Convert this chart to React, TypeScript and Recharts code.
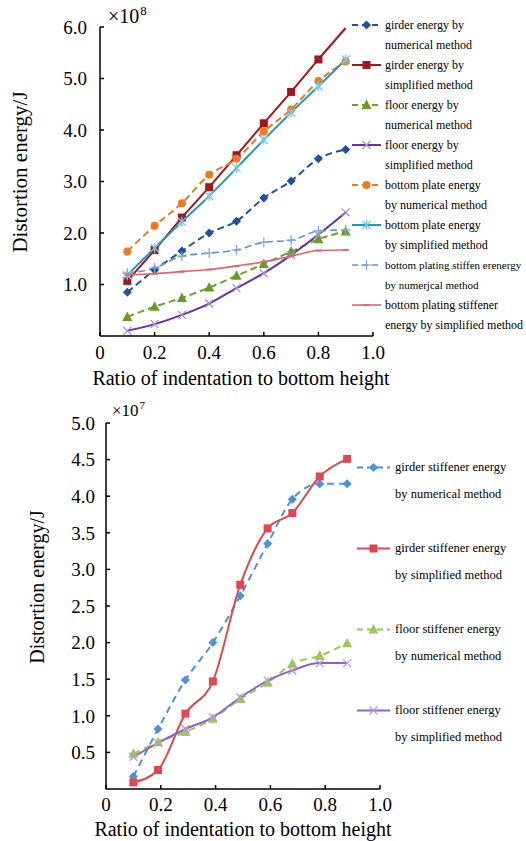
import React from 'react';
import { LineChart, Line, XAxis, YAxis, Legend, Label } from 'recharts';

const FONT = '"Liberation Serif", "Times New Roman", serif';

// upper chart (x10^8 J)
const ratioTop = [0.1, 0.2, 0.3, 0.4, 0.5, 0.6, 0.7, 0.8, 0.9];
const girderNum = [0.85, 1.28, 1.65, 2.0, 2.23, 2.68, 3.01, 3.44, 3.62];
const girderSim = [1.07, 1.67, 2.3, 2.89, 3.51, 4.13, 4.74, 5.37, 5.98];
const floorNum = [0.37, 0.57, 0.74, 0.94, 1.17, 1.4, 1.64, 1.88, 2.03];
const floorSim = [0.1, 0.23, 0.41, 0.63, 0.93, 1.22, 1.57, 1.97, 2.4];
const plateNum = [1.64, 2.14, 2.58, 3.13, 3.44, 3.97, 4.4, 4.95, 5.33];
const plateSim = [1.18, 1.71, 2.22, 2.72, 3.26, 3.81, 4.34, 4.85, 5.37];
const platingStiffNum = [1.22, 1.32, 1.55, 1.61, 1.67, 1.82, 1.86, 2.04, 2.06];
const platingStiffSim = [1.19, 1.21, 1.25, 1.29, 1.36, 1.44, 1.55, 1.66, 1.67];

// lower chart (x10^7 J)
const ratioBottom = [0.1, 0.19, 0.29, 0.39, 0.49, 0.59, 0.68, 0.78, 0.88];
const girderStiffNum = [0.17, 0.82, 1.49, 2.0, 2.64, 3.35, 3.96, 4.17, 4.17];
const girderStiffSim = [0.09, 0.26, 1.03, 1.47, 2.79, 3.56, 3.77, 4.27, 4.51];
const floorStiffNum = [0.48, 0.64, 0.78, 0.96, 1.23, 1.45, 1.71, 1.82, 1.99];
const floorStiffSim = [0.44, 0.63, 0.82, 0.98, 1.25, 1.48, 1.62, 1.72, 1.72];

const xTicks = [0, 0.2, 0.4, 0.6, 0.8, 1.0];
const topYTicks = [1, 2, 3, 4, 5, 6];
const bottomYTicks = [0.5, 1, 1.5, 2, 2.5, 3, 3.5, 4, 4.5, 5];

type Shape = 'diamond' | 'square' | 'triangle' | 'cross' | 'circle' | 'star' | 'plus' | 'dash';

interface Series {
  key: string;
  values: number[];
  color: string;
  markColor: string;
  shape: Shape;
  dash?: string;
  width: number;
  text: [string, string];
  hideLast?: boolean;
  textSize?: number;
}

const topSeries: Series[] = [
  { key: 'girderNum', values: girderNum, color: '#2152a3', markColor: '#1f4fa2', shape: 'diamond', dash: '7 4', width: 2, text: ['girder energy by', 'numerical method'] },
  { key: 'girderSim', values: girderSim, color: '#a3161c', markColor: '#a3161c', shape: 'square', width: 2, text: ['girder energy by', 'simplified method'], hideLast: true },
  { key: 'floorNum', values: floorNum, color: '#6ea12a', markColor: '#679c22', shape: 'triangle', dash: '7 4', width: 2, text: ['floor energy by', 'numerical method'] },
  { key: 'floorSim', values: floorSim, color: '#6b2fa0', markColor: '#a78cd8', shape: 'cross', width: 2, text: ['floor energy by', 'simplified method'] },
  { key: 'plateNum', values: plateNum, color: '#ef7a1d', markColor: '#ef7a1d', shape: 'circle', dash: '7 4', width: 2, text: ['bottom plate energy', 'by numerical method'] },
  { key: 'plateSim', values: plateSim, color: '#1c9bc1', markColor: '#6ccdeb', shape: 'star', width: 2, text: ['bottom plate energy', 'by simplified method'] },
  { key: 'platingStiffNum', values: platingStiffNum, color: '#5b8fd8', markColor: '#7ea8e4', shape: 'plus', dash: '7 4', width: 1.6, text: ['bottom plating stiffen erenergy', 'by numerjcal method'], textSize: 11 },
  { key: 'platingStiffSim', values: platingStiffSim, color: '#e2636c', markColor: '#e2636c', shape: 'dash', width: 1.6, text: ['bottom plating stiffener', 'energy by simplified method'] },
];

const bottomSeries: Series[] = [
  { key: 'girderStiffNum', values: girderStiffNum, color: '#4a90e2', markColor: '#4a90e2', shape: 'diamond', dash: '7 5', width: 2, text: ['girder stiffener energy', 'by numerical method'] },
  { key: 'girderStiffSim', values: girderStiffSim, color: '#e0474c', markColor: '#e0474c', shape: 'square', width: 2, text: ['girder stiffener energy', 'by simplified method'] },
  { key: 'floorStiffNum', values: floorStiffNum, color: '#9bc84e', markColor: '#9bc84e', shape: 'triangle', dash: '7 5', width: 2, text: ['floor stiffener energy', 'by numerical method'] },
  { key: 'floorStiffSim', values: floorStiffSim, color: '#8f61cc', markColor: '#b497e0', shape: 'cross', width: 2, text: ['floor stiffener energy', 'by simplified method'] },
];

const buildRows = (ratios: number[], series: Series[]) =>
  ratios.map((r, i) => {
    const row: Record<string, number> = { ratio: r };
    series.forEach((s) => (row[s.key] = s.values[i]));
    return row;
  });

const topRows = buildRows(ratioTop, topSeries);
const bottomRows = buildRows(ratioBottom, bottomSeries);

const Marker = ({ shape, x, y, color }: { shape: Shape; x: number; y: number; color: string }) => {
  switch (shape) {
    case 'diamond':
      return <polygon points={`${x},${y - 4.5} ${x + 4.5},${y} ${x},${y + 4.5} ${x - 4.5},${y}`} fill={color} />;
    case 'square':
      return <rect x={x - 4} y={y - 4} width={8} height={8} fill={color} />;
    case 'triangle':
      return <polygon points={`${x},${y - 5.5} ${x + 5},${y + 4} ${x - 5},${y + 4}`} fill={color} />;
    case 'circle':
      return <circle cx={x} cy={y} r={4} fill={color} />;
    case 'cross':
      return (
        <g stroke={color} strokeWidth={1.3}>
          <line x1={x - 4} y1={y - 4} x2={x + 4} y2={y + 4} />
          <line x1={x - 4} y1={y + 4} x2={x + 4} y2={y - 4} />
        </g>
      );
    case 'star':
      return (
        <g stroke={color} strokeWidth={1.3}>
          <line x1={x - 4} y1={y - 4} x2={x + 4} y2={y + 4} />
          <line x1={x - 4} y1={y + 4} x2={x + 4} y2={y - 4} />
          <line x1={x} y1={y - 5} x2={x} y2={y + 5} />
        </g>
      );
    case 'plus':
      return (
        <g stroke={color} strokeWidth={1.3}>
          <line x1={x - 5} y1={y} x2={x + 5} y2={y} />
          <line x1={x} y1={y - 5} x2={x} y2={y + 5} />
        </g>
      );
    default:
      return <line x1={x - 3} y1={y} x2={x + 3} y2={y} stroke={color} strokeWidth={2} />;
  }
};

const makeDot = (s: Series) => (p: any) => {
  if (p.cx == null || p.cy == null || (s.hideLast && p.index === s.values.length - 1)) {
    return <g key={`${s.key}-${p.index}`} />;
  }
  return (
    <g key={`${s.key}-${p.index}`}>
      <Marker shape={s.shape} x={p.cx} y={p.cy} color={s.markColor} />
    </g>
  );
};

const makeLegend = (series: Series[], rowH: number, lineH: number, symW: number, gap: number, fontSize: number) => () => (
  <div style={{ fontFamily: FONT, fontSize, color: '#000' }}>
    {series.map((s) => (
      <div key={s.key} style={{ display: 'flex', height: rowH, alignItems: 'flex-start' }}>
        <svg width={symW} height={lineH} style={{ flex: 'none' }}>
          <line x1={0} x2={symW} y1={lineH / 2} y2={lineH / 2} stroke={s.color} strokeWidth={s.width} strokeDasharray={s.dash ? '6 4' : undefined} />
          <Marker shape={s.shape} x={symW / 2} y={lineH / 2} color={s.markColor} />
        </svg>
        <div style={{ marginLeft: gap, lineHeight: `${lineH}px`, whiteSpace: 'nowrap', fontSize: s.textSize ?? fontSize }}>
          {s.text[0]}
          <br />
          {s.text[1]}
        </div>
      </div>
    ))}
  </div>
);

const fmtX = (v: number) => (v === 0 ? '0' : v.toFixed(1));
const fmtY = (v: number) => v.toFixed(1);

const axisStyle = { stroke: '#000', strokeWidth: 1.5 };

const XTitle = (x: number, y: number) => () => (
  <text x={x} y={y} textAnchor="middle" fontFamily={FONT} fontSize={20} fill="#000">
    Ratio of indentation to bottom height
  </text>
);

const YTitle = (x: number, y: number, titleSize: number, exp: string, ex: number, ey: number, size: number) => () => (
  <g fontFamily={FONT} fill="#000">
    <text x={x} y={y} transform={`rotate(-90 ${x} ${y})`} textAnchor="middle" dominantBaseline="central" fontSize={titleSize}>
      Distortion energy/J
    </text>
    <text x={ex} y={ey} fontSize={size}>
      ×10
      <tspan dx={1} dy={-size * 0.4} fontSize={size * 0.65}>
        {exp}
      </tspan>
    </text>
  </g>
);

export default function App() {
  return (
    <div style={{ position: 'absolute', left: 0, top: 0, width: 526, height: 841, background: '#fff' }}>
      <div style={{ position: 'absolute', left: 0, top: 0 }}>
        <LineChart width={526} height={400} data={topRows} margin={{ top: 27, right: 153, bottom: 34, left: 60 }}>
          <XAxis
            dataKey="ratio"
            type="number"
            domain={[0, 1]}
            ticks={xTicks}
            interval={0}
            tickFormatter={fmtX}
            height={30}
            tickSize={-4}
            tickMargin={14}
            axisLine={axisStyle}
            tickLine={axisStyle}
            tick={{ fill: '#000', fontSize: 19, fontFamily: FONT }}
          >
            <Label content={XTitle(241, 385)} />
          </XAxis>
          <YAxis
            type="number"
            domain={[0, 6]}
            ticks={topYTicks}
            interval={0}
            tickFormatter={fmtY}
            width={40}
            tickSize={-4}
            tickMargin={17}
            axisLine={axisStyle}
            tickLine={axisStyle}
            tick={{ fill: '#000', fontSize: 19, fontFamily: FONT }}
          >
            <Label content={YTitle(20, 172, 21, '8', 108, 23, 20)} />
          </YAxis>
          <Legend
            layout="vertical"
            align="center"
            verticalAlign="middle"
            content={makeLegend(topSeries, 40, 20, 29, 4, 12)}
            wrapperStyle={{ left: 352, top: 15, width: 174 }}
          />
          {topSeries.map((s) => (
            <Line
              key={s.key}
              dataKey={s.key}
              type="monotone"
              stroke={s.color}
              strokeWidth={s.width}
              strokeDasharray={s.dash}
              dot={makeDot(s)}
              activeDot={false}
              isAnimationActive={false}
            />
          ))}
        </LineChart>
      </div>
      <div style={{ position: 'absolute', left: 0, top: 400 }}>
        <LineChart width={526} height={441} data={bottomRows} margin={{ top: 23, right: 146, bottom: 22, left: 66 }}>
          <XAxis
            dataKey="ratio"
            type="number"
            domain={[0, 1]}
            ticks={xTicks}
            interval={0}
            tickFormatter={fmtX}
            height={30}
            tickSize={-4}
            tickMargin={13}
            axisLine={axisStyle}
            tickLine={axisStyle}
            tick={{ fill: '#000', fontSize: 19, fontFamily: FONT }}
          >
            <Label content={XTitle(243, 436)} />
          </XAxis>
          <YAxis
            type="number"
            domain={[0, 5]}
            ticks={bottomYTicks}
            interval={0}
            tickFormatter={fmtY}
            width={40}
            tickSize={-4}
            tickMargin={15}
            axisLine={axisStyle}
            tickLine={axisStyle}
            tick={{ fill: '#000', fontSize: 19, fontFamily: FONT }}
          >
            <Label content={YTitle(37, 187, 20, '7', 112, 16, 17)} />
          </YAxis>
          <Legend
            layout="vertical"
            align="center"
            verticalAlign="middle"
            content={makeLegend(bottomSeries, 81, 27, 33, 5, 12.5)}
            wrapperStyle={{ left: 357, top: 54, width: 169 }}
          />
          {bottomSeries.map((s) => (
            <Line
              key={s.key}
              dataKey={s.key}
              type="monotone"
              stroke={s.color}
              strokeWidth={s.width}
              strokeDasharray={s.dash}
              dot={makeDot(s)}
              activeDot={false}
              isAnimationActive={false}
            />
          ))}
        </LineChart>
      </div>
    </div>
  );
}
